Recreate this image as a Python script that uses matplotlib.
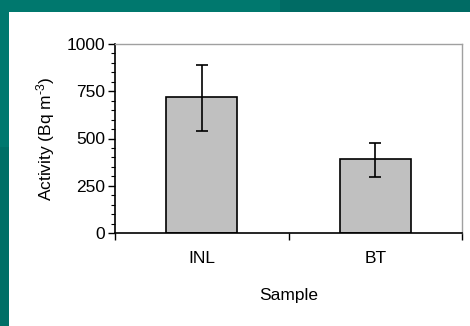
import numpy as np
import matplotlib
matplotlib.use("Agg")
import matplotlib.pyplot as plt
from matplotlib.patches import Rectangle
from matplotlib.ticker import MultipleLocator

samples = ["INL", "BT"]
activity = [720, 390]
err_low = [180, 95]
err_high = [170, 85]

plt.rcParams['font.family'] = ['Liberation Sans', 'DejaVu Sans']
plt.rcParams['mathtext.fontset'] = 'custom'
plt.rcParams['mathtext.rm'] = 'Liberation Sans'
plt.rcParams['mathtext.default'] = 'rm'

W, H = 470, 326
fig = plt.figure(figsize=(W / 100, H / 100), dpi=100)
fig.patch.set_facecolor('#00786e')

# teal backdrop with a white panel
fig.patches.append(Rectangle((0, 0), 1, 1, transform=fig.transFigure,
                             facecolor='#00786e', edgecolor='none', zorder=-3))
fig.patches.append(Rectangle((280 / W, 1 - 12 / H), 190 / W, 12 / H, transform=fig.transFigure,
                             facecolor='#006b64', edgecolor='none', zorder=-2))
fig.patches.append(Rectangle((0, 0), 9 / W, 0.55, transform=fig.transFigure,
                             facecolor='#006f66', edgecolor='none', zorder=-2))
fig.patches.append(Rectangle((9 / W, 0), 1 - 9 / W, 1 - 12 / H, transform=fig.transFigure,
                             facecolor='white', edgecolor='none', zorder=-1))

ax = fig.add_axes([115 / W, 1 - 233 / H, (462 - 115) / W, (233 - 44) / H])
ax.set_facecolor('none')

x = np.arange(len(samples))
ax.bar(x, activity, width=0.41, color='#c0c0c0', edgecolor='black', linewidth=1.2, zorder=2)
ax.errorbar(x, activity, yerr=[err_low, err_high], fmt='none', ecolor='black',
            elinewidth=1.2, capsize=4.3, capthick=1.2, zorder=3)

ax.set_xlim(-0.5, 1.5)
ax.set_ylim(0, 1000)
ax.yaxis.set_major_locator(MultipleLocator(250))
ax.yaxis.set_minor_locator(MultipleLocator(50))
ax.set_xticks([-0.5, 0.5, 1.5])
ax.set_xticklabels([])
ax.set_xticks(x, minor=True)
ax.set_xticklabels(samples, minor=True)
ax.tick_params(axis='x', which='minor', length=0, pad=13, labelsize=12.5)
ax.tick_params(axis='x', which='major', direction='out', length=5, width=1)
ax.tick_params(axis='y', which='major', direction='out', length=5, width=1, labelsize=12.5, pad=2)
ax.tick_params(axis='y', which='minor', direction='out', length=3, width=0.8)

for s in ['top', 'right']:
    ax.spines[s].set_color('#a0a0a0')
    ax.spines[s].set_linewidth(1)
for s in ['left', 'bottom']:
    ax.spines[s].set_color('black')
    ax.spines[s].set_linewidth(1.2)

ax.set_xlabel('Sample', fontsize=12.5, labelpad=16)
ax.set_ylabel(r'Activity (Bq m$^{\text{-}3}$)', fontsize=12.5, labelpad=7)

fig.savefig('out.png', dpi=100, facecolor=fig.get_facecolor())
